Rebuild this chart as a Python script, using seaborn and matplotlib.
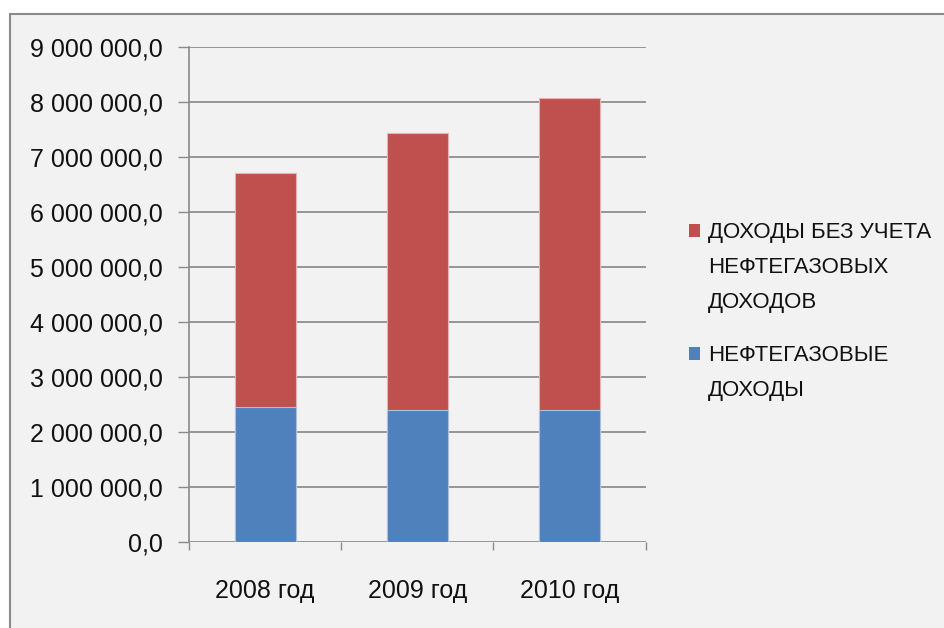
import matplotlib
matplotlib.use("Agg")
import matplotlib.pyplot as plt
import matplotlib.patches as mpatches
from matplotlib.ticker import FuncFormatter, FixedLocator
import seaborn as sns
import pandas as pd

years = ["2008 год", "2009 год", "2010 год"]
oil_gas = [2455000, 2400000, 2400000]          # НЕФТЕГАЗОВЫЕ ДОХОДЫ
non_oil_gas = [4245000, 5040000, 5670000]      # ДОХОДЫ БЕЗ УЧЕТА НЕФТЕГАЗОВЫХ ДОХОДОВ
label_non = "ДОХОДЫ БЕЗ УЧЕТА\nНЕФТЕГАЗОВЫХ\nДОХОДОВ"
label_oil = "НЕФТЕГАЗОВЫЕ\nДОХОДЫ"

sns.set_theme(style="white")
plt.rcParams['font.family'] = ['Liberation Sans', 'DejaVu Sans']

df = pd.DataFrame({"year": years, "oil": oil_gas, "non": non_oil_gas})
df["total"] = df["oil"] + df["non"]

W, H = 944, 628
fig = plt.figure(figsize=(W / 100, H / 100), dpi=100, facecolor="white")
panel = mpatches.Rectangle((10 / W, -0.1), 1.2, (H - 14) / H + 0.1, transform=fig.transFigure,
                           facecolor="#f2f2f2", edgecolor="#8a8a8a", linewidth=1.5, zorder=-10)
fig.patches.append(panel)

ax = fig.add_axes([189 / W, (H - 541.7) / H, (645.7 - 189) / W, (541.7 - 46.7) / H])
ax.set_facecolor("none")

red = "#C0504D"
blue = "#4F81BD"
sns.barplot(data=df, x="year", y="total", color=red, width=0.4, saturation=1,
            edgecolor="#e8b4b3", linewidth=0.8, ax=ax, zorder=3)
sns.barplot(data=df, x="year", y="oil", color=blue, width=0.4, saturation=1,
            edgecolor="#a9c2e2", linewidth=0.8, ax=ax, zorder=4)

ax.set_ylim(0, 9000000)
ax.set_xlim(-0.5, 2.5)
ax.set_yticks(range(0, 9000001, 1000000))
ax.yaxis.set_major_formatter(FuncFormatter(lambda v, p: f"{int(v):,}".replace(",", " ") + ",0"))
ax.grid(axis="y", color="#868686", linewidth=1.2, zorder=0)
ax.set_axisbelow(True)
ax.set_xlabel("")
ax.set_ylabel("")

for s in ["top", "right", "bottom"]:
    ax.spines[s].set_visible(False)
ax.spines["left"].set_color("#8a8a8a")
ax.spines["left"].set_linewidth(1.2)

ax.tick_params(axis="y", which="major", length=8, width=1, color="#8a8a8a", direction="out",
               pad=11, labelsize=18, labelcolor="#111111", left=True)
ax.xaxis.set_minor_locator(FixedLocator([-0.5, 0.5, 1.5, 2.5]))
ax.tick_params(axis="x", which="minor", length=6, width=1, color="#8a8a8a", direction="out", bottom=True)
ax.tick_params(axis="x", which="major", length=0, pad=27, labelsize=18, labelcolor="#111111")

# legend (drawn manually so the swatch aligns with the first line, as in the reference)
entries = [(label_non, red, 238), (label_oil, blue, 361)]
for text, col, base in entries:
    fig.patches.append(mpatches.Rectangle((689 / W, 1 - (base - 1) / H), 11 / W, 13 / H,
                                          transform=fig.transFigure, facecolor=col,
                                          edgecolor="none", zorder=5))
    for i, line in enumerate(text.split("\n")):
        fig.text(708 / W, 1 - (base + 35 * i) / H, line, fontsize=16, color="#111111",
                 ha="left", va="baseline")

fig.savefig("out.png", dpi=100, facecolor="white")
